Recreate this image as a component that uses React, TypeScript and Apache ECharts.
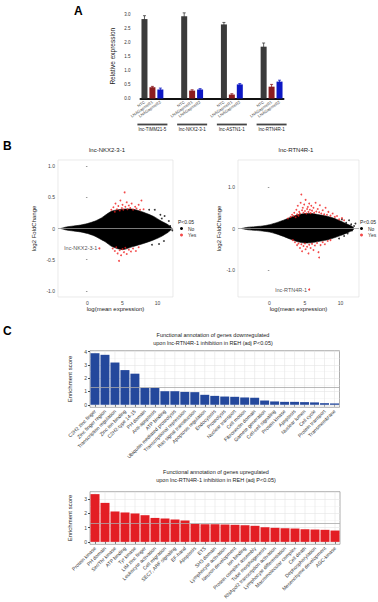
import React, { useEffect, useRef } from "react";
import * as echarts from "echarts";

// ---------- Panel A: relative expression after GapmeR knockdown ----------
const lncGroups = ["lnc-TIMM21-5", "lnc-NKX2-3-1", "lnc-ASTN1-1", "lnc-RTN4R-1"];
const conditions = ["NTC", "LNAGapmeR1", "LNAGapmeR2"];
const conditionColors = ["#3b3b3b", "#8c1c1f", "#0c17c4"];
const ntcExpression = [2.82, 2.92, 2.63, 1.84];
const gapmer1Expression = [0.4, 0.28, 0.14, 0.42];
const gapmer2Expression = [0.32, 0.32, 0.5, 0.6];
const ntcError = [0.12, 0.12, 0.07, 0.13];
const gapmer1Error = [0.03, 0.03, 0.03, 0.08];
const gapmer2Error = [0.05, 0.03, 0.03, 0.05];

// ---------- Panel B: MA plots ----------
// outline of the dense cloud of non-significant genes
const nkxCloudX = [-3.8, -3, -2, -1, 0, 1, 2, 2.5, 3.5, 5, 6.5, 8, 9.5, 10.5, 11.5, 12];
const nkxCloudUpper = [0, 0.025, 0.04, 0.055, 0.08, 0.115, 0.17, 0.21, 0.28, 0.31, 0.31, 0.26, 0.19, 0.12, 0.06, 0.01];
const nkxCloudLower = [0, -0.025, -0.04, -0.055, -0.08, -0.12, -0.18, -0.21, -0.29, -0.34, -0.29, -0.24, -0.18, -0.13, -0.06, -0.01];
const nkxOther = [
  [9.6, 0.3], [10.2, -0.25], [10.6, 0.16], [10.9, -0.2], [11.0, 0.2], [11.3, -0.06], [11.8, 0.04],
  [11.6, 0.12], [12.1, -0.03], [10.4, 0.22], [8.8, 0.3], [9.2, -0.26],
];
const nkxSignificant = [
  [3.4, 0.3], [3.7, 0.34], [3.9, 0.27], [4.0, 0.4], [4.2, 0.31], [4.4, 0.36], [4.6, 0.29], [4.7, 0.45],
  [4.9, 0.33], [5.0, 0.38], [5.1, 0.3], [5.3, 0.58], [5.4, 0.35], [5.6, 0.42], [5.7, 0.31], [5.9, 0.37],
  [6.1, 0.33], [6.3, 0.4], [6.5, 0.3], [6.8, 0.35], [7.0, 0.32], [7.3, 0.38], [7.5, 0.3], [7.7, 0.45],
  [8.0, 0.31], [3.6, -0.32], [3.9, -0.36], [4.1, -0.3], [4.3, -0.4], [4.5, -0.52], [4.6, -0.35],
  [4.8, -0.43], [5.0, -0.33], [5.2, -0.38], [5.4, -0.31], [5.6, -0.41], [5.9, -0.34], [6.2, -0.37],
  [6.5, -0.32], [6.9, -0.36], [7.3, -0.3],
];
const nkxGene = [1.7, -0.32];

const rtnCloudX = [-3.9, -3, -2, -1, 0, 1, 2, 3, 4, 5, 6, 7, 8, 9, 10, 11, 11.8];
const rtnCloudUpper = [0, 0.03, 0.045, 0.06, 0.09, 0.14, 0.2, 0.27, 0.33, 0.36, 0.36, 0.33, 0.3, 0.25, 0.18, 0.1, 0.03];
const rtnCloudLower = [0, -0.03, -0.045, -0.06, -0.085, -0.13, -0.19, -0.26, -0.32, -0.35, -0.34, -0.31, -0.28, -0.23, -0.17, -0.1, -0.03];
const rtnOther = [
  [10.8, 0.14], [11.2, 0.2], [11.5, 0.1], [11.9, 0.06], [10.5, -0.18], [11.0, -0.12], [11.6, -0.05],
  [12.1, 0.12], [10.2, 0.22], [9.8, -0.24],
];
const rtnSignificant = [
  [2.6, 0.24], [3.0, 0.28], [3.2, 0.33], [3.4, 0.3], [3.5, 0.38], [3.7, 0.27], [3.8, 0.45], [3.9, 0.34],
  [4.0, 0.55], [4.1, 0.31], [4.2, 0.4], [4.3, 0.36], [4.4, 0.62], [4.5, 0.82], [4.6, 0.44], [4.7, 0.5],
  [4.8, 0.38], [4.9, 0.58], [5.0, 0.42], [5.1, 0.69], [5.2, 0.36], [5.3, 0.47], [5.4, 0.52], [5.5, 0.4],
  [5.6, 0.6], [5.7, 0.45], [5.8, 0.37], [5.9, 0.55], [6.0, 0.43], [6.2, 0.5], [6.3, 0.38], [6.5, 0.62],
  [6.6, 0.41], [6.8, 0.47], [7.0, 0.39], [7.1, 0.56], [7.3, 0.36], [7.5, 0.44], [7.7, 0.34], [7.9, 0.5],
  [8.1, 0.33], [8.3, 0.4], [8.6, 0.31], [8.9, 0.36], [9.2, 0.28], [9.5, 0.3], [9.8, 0.22], [10.2, 0.25],
  [10.5, 0.2], [3.3, -0.28], [3.6, -0.33], [3.9, -0.4], [4.1, -0.36], [4.3, -0.47], [4.5, -0.38],
  [4.6, -0.55], [4.8, -0.42], [5.0, -0.36], [5.1, -0.5], [5.3, -0.44], [5.5, -0.6], [5.6, -0.39],
  [5.8, -0.47], [6.0, -0.37], [6.2, -0.52], [6.4, -0.41], [6.7, -0.35], [6.9, -0.57], [7.0, -0.7],
  [7.2, -0.4], [7.5, -0.33], [7.8, -0.38], [8.2, -0.3], [8.6, -0.28],
];
const rtnGene = [5.6, -1.47];

// ---------- Panel C: functional annotation enrichment ----------
const downTerms = [
  "C2H2 zinc finger", "Zinc finger region", "Transcription regulation", "Zinc ion binding",
  "C2H2-type 14-15", "PH domain", "Anti-apoptosis", "ATP binding", "Ubiquitin mediated proteolysis",
  "Transcriptional repression", "Ras signal transduction", "Apoptosis regulation", "Endocytosis",
  "Proteolysis", "Nuclear transport", "Cell motion", "Fibronectin domain", "Gamete generation",
  "Cell-cell signaling", "Protein kinase", "Apoptosis", "Nuclear lumen", "Cell cycle",
  "Protein transport", "Transmembrane",
];
const downScores = [3.88, 3.76, 3.18, 2.61, 2.34, 1.27, 1.27, 1.02, 1.02, 0.97, 0.95, 0.75, 0.67,
  0.62, 0.6, 0.55, 0.52, 0.32, 0.25, 0.22, 0.22, 0.2, 0.18, 0.12, 0.1];
const upTerms = [
  "Protein kinase", "PH domain", "Ser/Thr kinase", "ATP binding", "Tyr kinase", "LIM zinc finger",
  "Leukocyte activation", "Cell migration", "SEC7, ARF signaling", "EF-hand", "Apoptosis", "ETS",
  "SH3 domain", "Lymphocyte activation", "Neuron development", "Ion binding",
  "Protein complex assembly", "Tube morphogenesis", "RNApol2 transcription activation",
  "Lymphocyte differentiation", "Macromolecular complex", "Cell death", "Dephosphorylation",
  "Mesenchyme development", "AGC-kinase",
];
const upScores = [3.33, 2.72, 2.12, 2.05, 1.98, 1.86, 1.67, 1.63, 1.56, 1.49, 1.26, 1.23, 1.23,
  1.21, 1.19, 1.16, 1.12, 1.02, 0.98, 0.95, 0.93, 0.88, 0.86, 0.84, 0.79];
const significanceThreshold = 1.3;
const enrichmentTicks = [0, 1, 2, 3, 4];

const FONT = "Liberation Sans, Arial, Helvetica, sans-serif";
const RED = "#f01c1c";

// slot layout for panel A: three bars per gene, two empty slots between genes
const slotLabels: string[] = [];
const slotGroupLabels: string[] = [];
const slotBars: any[] = [];
const slotErrors: number[][] = [];
lncGroups.forEach((g, gi) => {
  const vals = [ntcExpression[gi], gapmer1Expression[gi], gapmer2Expression[gi]];
  const errs = [ntcError[gi], gapmer1Error[gi], gapmer2Error[gi]];
  conditions.forEach((c, ci) => {
    const slot = slotLabels.length;
    slotLabels.push(c);
    slotGroupLabels.push(ci === 1 ? g : "");
    slotBars.push({ value: vals[ci], itemStyle: { color: conditionColors[ci] } });
    slotErrors.push([slot, vals[ci], errs[ci], ci]);
  });
  if (gi < lncGroups.length - 1) {
    slotLabels.push("", "");
    slotGroupLabels.push("", "");
    slotBars.push("-", "-");
  }
});

const smallTitle = (text: string, left: number, top: number, size: number, extra: any = {}) => ({
  text,
  left,
  top,
  padding: 0,
  textStyle: { fontSize: size, fontWeight: "normal", color: "#222", fontFamily: FONT, ...extra },
});

function cloudSeries(xs: number[], up: number[], lo: number[], xi: number, yi: number) {
  return {
    type: "custom",
    name: "No",
    xAxisIndex: xi,
    yAxisIndex: yi,
    silent: true,
    clip: true,
    z: 2,
    itemStyle: { color: "#000" },
    data: [[xs[0], 0]],
    renderItem: (_p: any, api: any) => {
      const pts: number[][] = [];
      xs.forEach((x, i) => pts.push(api.coord([x, up[i]])));
      for (let i = xs.length - 1; i >= 0; i--) pts.push(api.coord([xs[i], lo[i]]));
      return {
        type: "polygon",
        shape: { points: pts, smooth: 0.25 },
        style: { fill: "#000", stroke: "#000", lineWidth: 0.6 },
      };
    },
  };
}

function pointSeries(name: string, data: number[][], color: string, xi: number, yi: number, z: number) {
  return {
    type: "scatter",
    name,
    xAxisIndex: xi,
    yAxisIndex: yi,
    symbolSize: 1.8,
    silent: true,
    z,
    itemStyle: { color },
    data,
  };
}

function geneSeries(label: string, point: number[], xi: number, yi: number) {
  return {
    type: "scatter",
    name: "Yes",
    xAxisIndex: xi,
    yAxisIndex: yi,
    symbolSize: 2,
    silent: true,
    z: 6,
    itemStyle: { color: RED },
    data: [{ value: point, name: label }],
    label: {
      show: true,
      position: "left",
      distance: 1,
      formatter: "{b}",
      fontSize: 5.5,
      color: "#222",
      fontFamily: FONT,
    },
  };
}

function zeroLineSeries(xi: number, yi: number) {
  return {
    type: "line",
    xAxisIndex: xi,
    yAxisIndex: yi,
    data: [],
    silent: true,
    markLine: {
      silent: true,
      symbol: "none",
      label: { show: false },
      lineStyle: { color: "#9a9a9a", width: 0.8, type: "solid" },
      data: [{ yAxis: 0 }],
      z: 7,
    },
  };
}

function vGridSeries(terms: string[], yMin: number, yMax: number, xi: number, yi: number) {
  return {
    type: "custom",
    xAxisIndex: xi,
    yAxisIndex: yi,
    silent: true,
    z: 1,
    data: terms.map((_t, i) => [i]),
    renderItem: (_p: any, api: any) => {
      const i = api.value(0);
      const a = api.coord([i, yMax]);
      const b = api.coord([i, yMin]);
      return {
        type: "line",
        shape: { x1: a[0], y1: a[1], x2: b[0], y2: b[1] },
        style: { stroke: "#e4e4e4", lineWidth: 0.6 },
      };
    },
  };
}

function enrichmentBars(scores: number[], color: string, xi: number, yi: number) {
  return {
    type: "bar",
    xAxisIndex: xi,
    yAxisIndex: yi,
    barCategoryGap: "10%",
    silent: true,
    z: 2,
    itemStyle: { color },
    data: scores,
    markLine: {
      silent: true,
      symbol: "none",
      label: { show: false },
      lineStyle: { color: "#a8a8a8", width: 0.8, type: "solid" },
      data: [{ yAxis: significanceThreshold }],
    },
  };
}

const maXAxis = (gridIndex: number, min: number, max: number, gap: number) => ({
  type: "value",
  gridIndex,
  min,
  max,
  name: "log(mean expression)",
  nameLocation: "middle",
  nameGap: gap,
  nameTextStyle: { fontSize: 6, color: "#222", fontFamily: FONT },
  axisLine: { show: false },
  splitLine: { show: false },
  axisTick: { show: true, length: 1.5, lineStyle: { color: "#555", width: 0.6 }, customValues: [0, 5, 10] },
  axisLabel: { fontSize: 5, color: "#444", margin: 3, customValues: [0, 5, 10], fontFamily: FONT },
});

const maYAxis = (gridIndex: number, min: number, max: number, ticks: number[], gap: number) => ({
  type: "value",
  gridIndex,
  min,
  max,
  name: "log2 FoldChange",
  nameLocation: "middle",
  nameGap: gap,
  nameTextStyle: { fontSize: 6, color: "#222", fontFamily: FONT },
  axisLine: { show: false },
  splitLine: { show: false },
  axisTick: { show: true, length: 1.5, lineStyle: { color: "#555", width: 0.6 }, customValues: ticks },
  axisLabel: {
    fontSize: 5,
    color: "#444",
    margin: 3,
    customValues: ticks,
    fontFamily: FONT,
    formatter: (v: number) => (v === 0 ? "0" : v.toFixed(1)),
  },
});

const termXAxis = (gridIndex: number, terms: string[]) => ({
  type: "category",
  gridIndex,
  data: terms,
  axisLine: { show: false },
  axisTick: { show: true, alignWithLabel: true, length: 2, lineStyle: { color: "#222", width: 0.8 } },
  axisLabel: { interval: 0, rotate: 45, fontSize: 5, color: "#333", margin: 3, fontFamily: FONT },
  splitLine: { show: false },
});

const scoreYAxis = (gridIndex: number, min: number, max: number) => ({
  type: "value",
  gridIndex,
  min,
  max,
  name: "Enrichment score",
  nameLocation: "middle",
  nameGap: 13,
  nameTextStyle: { fontSize: 6, color: "#222", fontFamily: FONT },
  axisLine: { show: false },
  axisTick: { show: true, length: 2, lineStyle: { color: "#222", width: 0.8 }, customValues: enrichmentTicks.filter((t) => t <= max) },
  axisLabel: { fontSize: 5, color: "#444", margin: 3, fontFamily: FONT, customValues: enrichmentTicks.filter((t) => t <= max) },
  splitLine: { show: true, lineStyle: { color: "#e4e4e4", width: 0.6 } },
  minorTick: { show: false, splitNumber: 2 },
  minorSplitLine: { show: true, lineStyle: { color: "#f1f1f1", width: 0.5 } },
});

const legendAt = (left: number) => ({
  left,
  top: 226,
  orient: "vertical",
  padding: 0,
  itemWidth: 3,
  itemHeight: 3,
  itemGap: 1.5,
  icon: "circle",
  selectedMode: false,
  textStyle: { fontSize: 5, color: "#333", fontFamily: FONT },
  data: ["No", "Yes"],
});

export default function App() {
  const ref = useRef<HTMLDivElement>(null);

  useEffect(() => {
    if (!ref.current) return;
    const chart = echarts.init(ref.current, undefined, { renderer: "svg" });

    const downMin = -0.19;
    const downMax = 4.07;
    const upMin = -0.17;
    const upMax = 3.5;

    chart.setOption({
      animation: false,
      backgroundColor: "#fff",
      textStyle: { fontFamily: FONT },
      title: [
        smallTitle("A", 74, 5, 12, { fontWeight: "bold", color: "#000" }),
        smallTitle("B", 3, 140, 12, { fontWeight: "bold", color: "#000" }),
        smallTitle("C", 3, 325, 12, { fontWeight: "bold", color: "#000" }),
        { ...smallTitle("lnc-NKX2-3-1", 107, 147, 6), textAlign: "center" },
        { ...smallTitle("lnc-RTN4R-1", 296, 147, 6), textAlign: "center" },
        smallTitle("P<0.05", 178, 219.5, 5),
        smallTitle("P<0.05", 360, 219.5, 5),
        {
          ...smallTitle(
            "Functional annotation of genes downregulated\nupon lnc-RTN4R-1 inhibition in REH (adj P<0.05)",
            213, 331, 5.5, { lineHeight: 7.7 }
          ),
          textAlign: "center",
        },
        {
          ...smallTitle(
            "Functional annotation of genes upregulated\nupon lnc-RTN4R-1 inhibition in REH (adj P<0.05)",
            216, 467.5, 5.5, { lineHeight: 8.3 }
          ),
          textAlign: "center",
        },
      ],
      legend: [legendAt(180), legendAt(360)],
      grid: [
        { left: 140.5, top: 14, width: 143, height: 84.5 },
        { left: 58, top: 160, width: 115, height: 137, show: true, borderColor: "#dcdcdc", borderWidth: 0.6 },
        { left: 238, top: 160, width: 121, height: 137, show: true, borderColor: "#dcdcdc", borderWidth: 0.6 },
        { left: 90, top: 350.7, width: 249.5, height: 56.6, show: true, borderColor: "#9a9a9a", borderWidth: 0.8 },
        { left: 90, top: 491.7, width: 250, height: 52.6, show: true, borderColor: "#9a9a9a", borderWidth: 0.8 },
      ],
      xAxis: [
        {
          type: "category",
          gridIndex: 0,
          data: slotLabels,
          axisLine: { show: true, lineStyle: { color: "#111", width: 2 } },
          axisTick: { show: false },
          axisLabel: { interval: 0, rotate: 35, fontSize: 4, color: "#444", margin: 3, fontFamily: FONT },
        },
        {
          type: "category",
          gridIndex: 0,
          data: slotGroupLabels,
          position: "bottom",
          offset: 22,
          axisLine: { show: false },
          axisTick: { show: false },
          axisLabel: {
            interval: 0,
            margin: 3,
            formatter: (v: string) => (v ? `{u| }\n{n|${v}}` : ""),
            rich: {
              u: { width: 30, height: 1.8, lineHeight: 2, fontSize: 1, backgroundColor: "#444" },
              n: { fontSize: 4.5, lineHeight: 7, color: "#222", fontFamily: FONT },
            },
          },
        },
        maXAxis(1, -4.2, 12.2, 9),
        maXAxis(2, -4.4, 12.6, 9),
        termXAxis(3, downTerms),
        termXAxis(4, upTerms),
      ],
      yAxis: [
        {
          type: "value",
          gridIndex: 0,
          min: 0,
          max: 3,
          interval: 0.5,
          name: "Relative expression",
          nameLocation: "middle",
          nameGap: 25,
          nameTextStyle: { fontSize: 6.5, color: "#222", fontFamily: FONT },
          axisLine: { show: false },
          axisTick: { show: false },
          splitLine: { show: false },
          axisLabel: { fontSize: 4.5, color: "#333", margin: 10, fontFamily: FONT, formatter: (v: number) => v.toFixed(1) },
        },
        maYAxis(1, -1.1, 1.1, [-1, -0.5, 0, 0.5, 1], 21),
        maYAxis(2, -1.65, 1.65, [-1, 0, 1], 16),
        scoreYAxis(3, downMin, downMax),
        scoreYAxis(4, upMin, upMax),
      ],
      series: [
        // Panel A
        {
          type: "bar",
          xAxisIndex: 0,
          yAxisIndex: 0,
          barWidth: 6,
          silent: true,
          data: slotBars,
        },
        {
          type: "custom",
          xAxisIndex: 0,
          yAxisIndex: 0,
          clip: false,
          silent: true,
          z: 3,
          data: slotErrors,
          renderItem: (_p: any, api: any) => {
            const x = api.value(0);
            const v = api.value(1);
            const e = api.value(2);
            const color = conditionColors[api.value(3)];
            const top = api.coord([x, v + e]);
            const bot = api.coord([x, v - e]);
            const cap = 1.5;
            const style = { stroke: color, lineWidth: 0.8 };
            return {
              type: "group",
              children: [
                { type: "line", shape: { x1: top[0], y1: top[1], x2: bot[0], y2: bot[1] }, style },
                { type: "line", shape: { x1: top[0] - cap, y1: top[1], x2: top[0] + cap, y2: top[1] }, style },
              ],
            };
          },
        },
        // Panel B, left
        cloudSeries(nkxCloudX, nkxCloudUpper, nkxCloudLower, 2, 1),
        pointSeries("No", nkxOther, "#000", 2, 1, 3),
        pointSeries("Yes", nkxSignificant, RED, 2, 1, 4),
        geneSeries("lnc-NKX2-3-1", nkxGene, 2, 1),
        zeroLineSeries(2, 1),
        // Panel B, right
        cloudSeries(rtnCloudX, rtnCloudUpper, rtnCloudLower, 3, 2),
        pointSeries("No", rtnOther, "#000", 3, 2, 3),
        pointSeries("Yes", rtnSignificant, RED, 3, 2, 4),
        geneSeries("lnc-RTN4R-1", rtnGene, 3, 2),
        zeroLineSeries(3, 2),
        // Panel C
        vGridSeries(downTerms, downMin, downMax, 4, 3),
        enrichmentBars(downScores, "#24489c", 4, 3),
        vGridSeries(upTerms, upMin, upMax, 5, 4),
        enrichmentBars(upScores, "#e31e24", 5, 4),
      ],
    });

    return () => chart.dispose();
  }, []);

  return (
    <div
      ref={ref}
      style={{ position: "fixed", left: 0, top: 0, width: 378, height: 602, background: "#fff" }}
    />
  );
}
